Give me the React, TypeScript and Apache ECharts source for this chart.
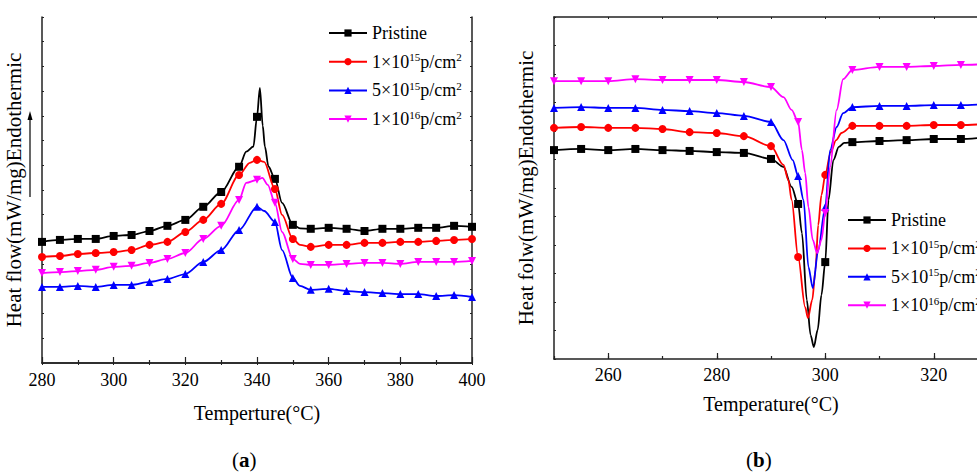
import React, { useEffect, useRef } from "react";
import * as echarts from "echarts";

const FONT = "'Liberation Serif', 'Times New Roman', serif";

const seriesNames = ["Pristine", "1×10^15p/cm^2", "5×10^15p/cm^2", "1×10^16p/cm^2"];
const seriesColors = ["#000000", "#ff0000", "#0000ff", "#ff00ff"];
const seriesSymbols = ["rect", "circle", "triangle", "path://M0,0 L10,0 L5,9 Z"];

// Panel (a): Temperture (°C) vs heat flow (arb.)
const aXTicks = { min: 280, max: 400, interval: 20 };
const aPristine: [number, number][] = [
  [280, 4.9], [285, 4.98], [290, 5.02], [295, 5.02], [300, 5.14], [305, 5.18], [310, 5.34],
  [315, 5.55], [320, 5.79], [325, 6.32], [330, 6.92], [335, 7.94], [337, 8.55], [339, 8.76],
  [340, 9.96], [340.8, 11.13], [341.6, 9.6], [342.2, 8.76], [343.2, 7.95], [345, 7.45],
  [347, 6.48], [350, 5.59], [352, 5.45], [355, 5.43], [360, 5.47], [365, 5.43], [370, 5.34],
  [375, 5.43], [380, 5.43], [385, 5.47], [390, 5.47], [395, 5.55], [400, 5.51],
];
const aRed: [number, number][] = [
  [280, 4.29], [285, 4.33], [290, 4.41], [295, 4.45], [300, 4.49], [305, 4.57], [310, 4.78],
  [315, 4.9], [320, 5.3], [325, 5.79], [330, 6.44], [335, 7.61], [338, 8.1], [340, 8.22],
  [342, 8.14], [345, 7.04], [347, 5.99], [350, 5.02], [352, 4.78], [355, 4.7], [360, 4.78],
  [365, 4.78], [370, 4.86], [375, 4.86], [380, 4.9], [385, 4.9], [390, 4.94], [395, 4.98],
  [400, 5.02],
];
const aBlue: [number, number][] = [
  [280, 3.08], [285, 3.08], [290, 3.12], [295, 3.08], [300, 3.16], [305, 3.16], [310, 3.28],
  [315, 3.4], [320, 3.6], [325, 4.09], [330, 4.57], [335, 5.38], [340, 6.32], [342, 6.15],
  [345, 5.71], [347, 4.57], [350, 3.44], [352, 3.12], [355, 2.96], [360, 3.0], [365, 2.91],
  [370, 2.87], [375, 2.83], [380, 2.79], [385, 2.79], [390, 2.71], [395, 2.75], [400, 2.67],
];
const aMagenta: [number, number][] = [
  [280, 3.64], [285, 3.68], [290, 3.72], [295, 3.77], [300, 3.89], [305, 3.93], [310, 4.05],
  [315, 4.21], [320, 4.45], [325, 5.02], [330, 5.55], [335, 6.6], [337, 7.29], [340, 7.41],
  [341.5, 7.49], [343, 7.21], [345, 6.48], [347, 5.3], [350, 4.21], [352, 4.01], [355, 3.97],
  [360, 3.97], [365, 4.01], [370, 4.05], [375, 4.05], [380, 4.01], [385, 4.09], [390, 4.09],
  [395, 4.09], [400, 4.13],
];

// Panel (b): Temperature (°C) vs heat flow (arb.)
const bXRange = { min: 250, max: 330 };
const bXLabels = [260, 280, 300, 320];
const bPristine: [number, number][] = [
  [250, 7.33], [255, 7.37], [260, 7.33], [265, 7.37], [270, 7.33], [275, 7.3], [280, 7.26],
  [285, 7.23], [290, 7.02], [292.3, 6.74], [293.8, 6.04], [295, 5.44], [295.7, 4.42],
  [296.6, 2.07], [297.3, 0.84], [297.9, 0.42], [298.6, 1.02], [299.3, 2.25], [300, 3.4],
  [300.6, 5.58], [301.5, 6.98], [302.5, 7.44], [303.5, 7.58], [305, 7.61], [310, 7.65],
  [315, 7.68], [320, 7.72], [325, 7.72], [330, 7.79],
];
const bRed: [number, number][] = [
  [250, 8.11], [255, 8.14], [260, 8.11], [265, 8.11], [270, 8.07], [275, 7.96], [280, 7.93],
  [285, 7.82], [290, 7.47], [292.3, 6.81], [293.2, 6.28], [293.8, 5.58], [295, 3.58],
  [296.3, 1.82], [296.8, 1.44], [297.6, 2.07], [298.2, 3.12], [298.7, 4.7], [299.3, 5.75],
  [300, 6.46], [301, 7.26], [302, 7.68], [303, 7.93], [305, 8.18], [310, 8.18], [315, 8.18],
  [320, 8.21], [325, 8.21], [330, 8.25],
];
const bBlue: [number, number][] = [
  [250, 8.81], [255, 8.84], [260, 8.81], [265, 8.81], [270, 8.74], [275, 8.7], [280, 8.63],
  [285, 8.53], [290, 8.32], [292.3, 7.68], [294, 6.98], [295, 6.42], [296, 5.58], [296.9, 3.23],
  [297.7, 2.49], [298.7, 3.82], [300, 5.33], [300.9, 7.33], [302.1, 8.14], [303.3, 8.63],
  [305, 8.84], [310, 8.88], [315, 8.88], [320, 8.91], [325, 8.91], [330, 8.95],
];
const bMagenta: [number, number][] = [
  [250, 9.75], [255, 9.75], [260, 9.75], [265, 9.82], [270, 9.79], [275, 9.79], [280, 9.79],
  [285, 9.72], [290, 9.54], [292.3, 9.19], [293.8, 8.74], [295, 8.32], [295.7, 7.33],
  [296.3, 6.53], [296.9, 5.33], [297.7, 4.18], [298.5, 3.72], [299.3, 4.18], [300, 5.12],
  [300.9, 6.74], [302.1, 8.74], [303.3, 9.82], [305, 10.14], [310, 10.25], [315, 10.25],
  [320, 10.28], [325, 10.32], [330, 10.35],
];

const legendFormatter = (name: string) => {
  const m = name.match(/^(\d)×10\^(\d+)p\/cm\^2$/);
  if (!m) return `{n|${name}}`;
  return `{n|${m[1]}×10}{s|${m[2]}}{n|p/cm}{s|2}`;
};

const legendRich = {
  n: { fontFamily: FONT, fontSize: 18, color: "#000", lineHeight: 20 },
  s: { fontFamily: FONT, fontSize: 11, color: "#000", lineHeight: 10, verticalAlign: "top" },
};

const mkSeries = (idx: number, data: [number, number][], axis: number) => ({
  type: "line",
  name: seriesNames[idx],
  xAxisIndex: axis === 0 ? 0 : 2,
  yAxisIndex: axis === 0 ? 0 : 2,
  data: data.map(([x, y]) => (x % 5 === 0 ? [x, y] : { value: [x, y], symbol: "none" })),
  symbol: seriesSymbols[idx],
  symbolSize: 8,
  showAllSymbol: true,
  smooth: 0.3,
  smoothMonotone: "x",
  color: seriesColors[idx],
  lineStyle: { color: seriesColors[idx], width: 1.8 },
  itemStyle: { color: seriesColors[idx] },
  z: 3 + idx,
});

const axisLine = { show: true, lineStyle: { color: "#222", width: 1.5 } };

export default function App() {
  const ref = useRef<HTMLDivElement>(null);
  useEffect(() => {
    if (!ref.current) return;
    const chart = echarts.init(ref.current, undefined, { renderer: "svg" });
    const yName = (text: string) => ({
      name: text,
      nameLocation: "middle",
      nameGap: 18,
      nameTextStyle: { fontFamily: FONT, fontSize: 21, color: "#000" },
    });
    const legendText = { fontFamily: FONT, fontSize: 18, color: "#000", rich: legendRich };
    chart.setOption({
      animation: false,
      backgroundColor: "#fff",
      textStyle: { fontFamily: FONT },
      grid: [
        { left: 42, top: 17, width: 430, height: 346 },
        { left: 554, top: 17, width: 434, height: 342 },
      ],
      xAxis: [
        {
          gridIndex: 0, type: "value", position: "bottom", ...aXTicks,
          axisLine, splitLine: { show: false },
          axisTick: { inside: true, length: 6, lineStyle: { color: "#222", width: 1.2 } },
          minorTick: { show: true, splitNumber: 2, length: 3, lineStyle: { color: "#222", width: 1.2 } },
          axisLabel: { fontFamily: FONT, fontSize: 18, color: "#000", margin: 8 },
          name: "Temperture(°C)", nameLocation: "middle", nameGap: 40,
          nameTextStyle: { fontFamily: FONT, fontSize: 20, color: "#000" },
        },
        {
          gridIndex: 0, type: "value", position: "top", min: 280, max: 400, interval: 10,
          axisLine, splitLine: { show: false },
          axisTick: { inside: true, length: 2, lineStyle: { color: "#222" } },
          axisLabel: { show: false },
        },
        {
          gridIndex: 1, type: "value", position: "bottom", ...bXRange,
          axisLine, splitLine: { show: false },
          axisTick: { inside: true, length: 6, customValues: bXLabels, lineStyle: { color: "#222", width: 1.2 } },
          axisLabel: { fontFamily: FONT, fontSize: 18, color: "#000", margin: 7, customValues: bXLabels },
          name: "Temperature(°C)", nameLocation: "middle", nameGap: 35,
          nameTextStyle: { fontFamily: FONT, fontSize: 20, color: "#000" },
        },
        {
          gridIndex: 1, type: "value", position: "bottom", ...bXRange, interval: 10,
          axisLine: { show: false }, splitLine: { show: false },
          axisTick: { inside: true, length: 3, lineStyle: { color: "#222", width: 1.2 } },
          axisLabel: { show: false },
        },
        {
          gridIndex: 1, type: "value", position: "top", ...bXRange, interval: 10,
          axisLine, splitLine: { show: false },
          axisTick: { inside: true, length: 2, lineStyle: { color: "#222" } },
          axisLabel: { show: false },
        },
      ],
      yAxis: [
        {
          gridIndex: 0, type: "value", position: "left", min: 0, max: 14, interval: 1,
          axisLine, splitLine: { show: false },
          axisTick: { inside: true, length: 2, lineStyle: { color: "#222" } },
          axisLabel: { show: false },
          ...yName("Heat flow(mW/mg)Endothermic"),
        },
        {
          gridIndex: 0, type: "value", position: "right", min: 0, max: 14, interval: 1,
          axisLine, splitLine: { show: false },
          axisTick: { inside: true, length: 2, lineStyle: { color: "#222" } },
          axisLabel: { show: false },
        },
        {
          gridIndex: 1, type: "value", position: "left", min: 0, max: 12, interval: 1,
          axisLine, splitLine: { show: false },
          axisTick: { inside: true, length: 2, lineStyle: { color: "#222" } },
          axisLabel: { show: false },
          ...yName("Heat folw(mW/mg)Endothermic"),
        },
        {
          gridIndex: 1, type: "value", position: "right", min: 0, max: 12, interval: 1,
          axisLine, splitLine: { show: false },
          axisTick: { inside: true, length: 2, lineStyle: { color: "#222" } },
          axisLabel: { show: false },
        },
      ],
      legend: [
        {
          data: seriesNames, orient: "vertical", left: 328, top: 24, padding: 0,
          itemWidth: 38, itemHeight: 9, itemGap: 9.7, formatter: legendFormatter,
          textStyle: legendText, selectedMode: false,
        },
        {
          data: seriesNames, orient: "vertical", left: 847, top: 211, padding: 0,
          itemWidth: 38, itemHeight: 9, itemGap: 9.4, formatter: legendFormatter,
          textStyle: legendText, selectedMode: false,
        },
      ],
      graphic: [
        { type: "line", shape: { x1: 30, y1: 197, x2: 30, y2: 117 }, style: { stroke: "#000", lineWidth: 1.2 } },
        { type: "polygon", shape: { points: [[27.5, 120], [30, 111], [32.5, 120]] }, style: { fill: "#000" } },
        {
          type: "text", left: 232, top: 449,
          style: {
            text: "{p|(}{b|a}{p|)}",
            rich: {
              p: { fontFamily: FONT, fontSize: 21, fill: "#000" },
              b: { fontFamily: FONT, fontSize: 21, fontWeight: "bold", fill: "#000" },
            },
          },
        },
        {
          type: "text", left: 746, top: 449,
          style: {
            text: "{p|(}{b|b}{p|)}",
            rich: {
              p: { fontFamily: FONT, fontSize: 21, fill: "#000" },
              b: { fontFamily: FONT, fontSize: 21, fontWeight: "bold", fill: "#000" },
            },
          },
        },
      ],
      series: [
        mkSeries(0, aPristine, 0),
        mkSeries(1, aRed, 0),
        mkSeries(2, aBlue, 0),
        mkSeries(3, aMagenta, 0),
        mkSeries(0, bPristine, 1),
        mkSeries(1, bRed, 1),
        mkSeries(2, bBlue, 1),
        mkSeries(3, bMagenta, 1),
      ],
    });
    return () => chart.dispose();
  }, []);
  return (
    <div style={{ position: "fixed", left: 0, top: 0, width: 977, height: 473, overflow: "hidden", background: "#fff" }}>
      <div ref={ref} style={{ width: 1000, height: 473 }} />
    </div>
  );
}
